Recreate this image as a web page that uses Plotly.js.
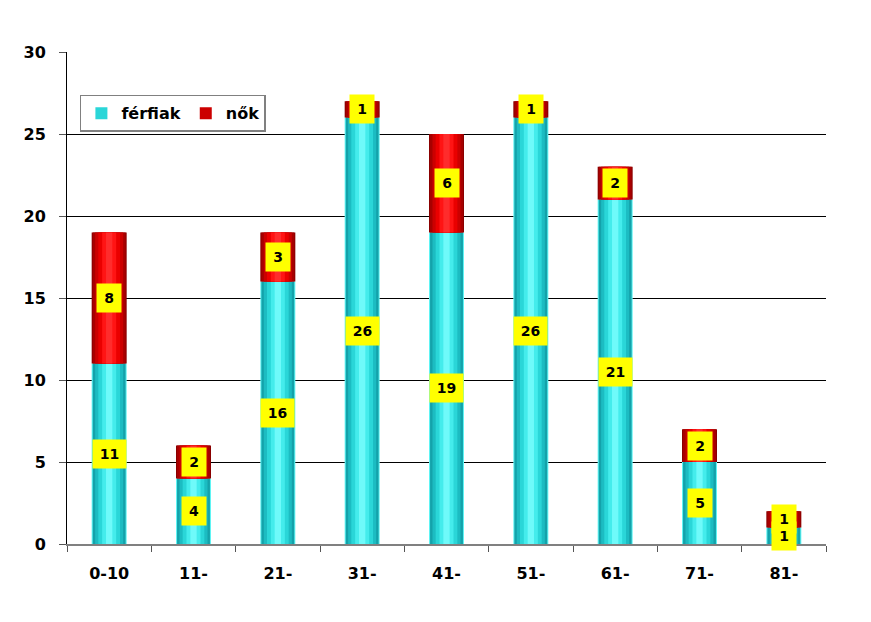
<!DOCTYPE html>
<html>
<head>
<meta charset="utf-8">
<script src="https://cdn.plot.ly/plotly-3.0.1.min.js"></script>
<style>html,body{margin:0;padding:0;background:#fff;}#chart{width:871px;height:622px;}</style>
</head>
<body>
<div id="chart"></div>
<script>
const categories = ['0-10','11-','21-','31-','41-','51-','61-','71-','81-'];
const ferfiak = [11,4,16,26,19,26,21,5,1];
const nok = [8,2,3,1,6,1,2,2,1];
const seriesNames = ['férfiak','nők'];

const FONT = 'DejaVu Sans, sans-serif';
const barW = 0.415;
// cylinder shading layers: [relative width, color]
const cyanLayers = [[1.0,'#5ff4f4'],[0.94,'#14a2aa'],[0.8,'#1cbcc2'],[0.62,'#2ad6d8'],[0.4,'#44ecec'],[0.18,'#6ffafa']];
const redLayers  = [[1.0,'#8a0000'],[0.94,'#a80000'],[0.8,'#cc0000'],[0.62,'#ea0000'],[0.4,'#ff1414'],[0.18,'#ff2c2c']];

const traces = [];
cyanLayers.forEach((l,i)=>{
  traces.push({type:'bar', x:categories, y:ferfiak, width:barW*l[0],
    marker:{color:l[1], line:{width:0}}, name:seriesNames[0],
    showlegend:i===3, legendgroup:'m', hoverinfo:'skip'});
});
redLayers.forEach((l,i)=>{
  traces.push({type:'bar', x:categories, y:nok, base:ferfiak, width:barW*l[0],
    marker:{color:l[1], line:{width:0}}, name:seriesNames[1],
    showlegend:i===2, legendgroup:'f', hoverinfo:'skip'});
});

// labels: first all yellow boxes, then all texts on top
const boxes = [], texts = [];
function lab(x, y, v){
  const t = String(v);
  const common = {x:x, y:y, xref:'x', yref:'y', text:t, showarrow:false,
    borderpad:5, width:5+9*t.length, height:18};
  boxes.push(Object.assign({}, common, {bgcolor:'#ffff00',
    font:{family:FONT, size:14, color:'rgba(0,0,0,0)', weight:'bold'}}));
  texts.push(Object.assign({}, common, {bgcolor:'rgba(0,0,0,0)',
    font:{family:FONT, size:14, color:'#000', weight:'bold'}}));
}
categories.forEach((c,i)=>{
  lab(c, ferfiak[i]/2, ferfiak[i]);
  lab(c, ferfiak[i]+nok[i]/2, nok[i]);
});

const layout = {
  width:871, height:622,
  margin:{l:67, r:45, t:52, b:78},
  paper_bgcolor:'#fff', plot_bgcolor:'#fff',
  barmode:'overlay',
  showlegend:true,
  legend:{orientation:'h', x:0.017, y:0.913, xanchor:'left', yanchor:'top',
    bgcolor:'#fff', bordercolor:'#808080', borderwidth:1.5,
    font:{family:FONT, size:16, color:'#000', weight:'bold'},
    itemwidth:30, tracegroupgap:0, traceorder:'normal'},
  xaxis:{type:'category', categoryorder:'array', categoryarray:categories,
    showline:true, linecolor:'#808080', linewidth:1.5,
    ticks:'outside', tickson:'boundaries', ticklen:6, tickcolor:'#555', tickwidth:1,
    showgrid:false, ticklabelstandoff:14,
    tickfont:{family:FONT, size:16, color:'#000', weight:'bold'}, fixedrange:true},
  yaxis:{range:[0,30], tickvals:[0,5,10,15,20,25,30], ticktext:['0','5','10','15','20','25','30'],
    showline:true, linecolor:'#000', linewidth:1,
    ticks:'outside', ticklen:7, tickcolor:'#555',
    showgrid:true, gridcolor:'#000', gridwidth:1, zeroline:false,
    ticklabelstandoff:10,
    tickfont:{family:FONT, size:16, color:'#000', weight:'bold'}, fixedrange:true},
  annotations:boxes.concat(texts)
};

Plotly.newPlot('chart', traces, layout, {displayModeBar:false, staticPlot:true});
</script>
</body>
</html>
